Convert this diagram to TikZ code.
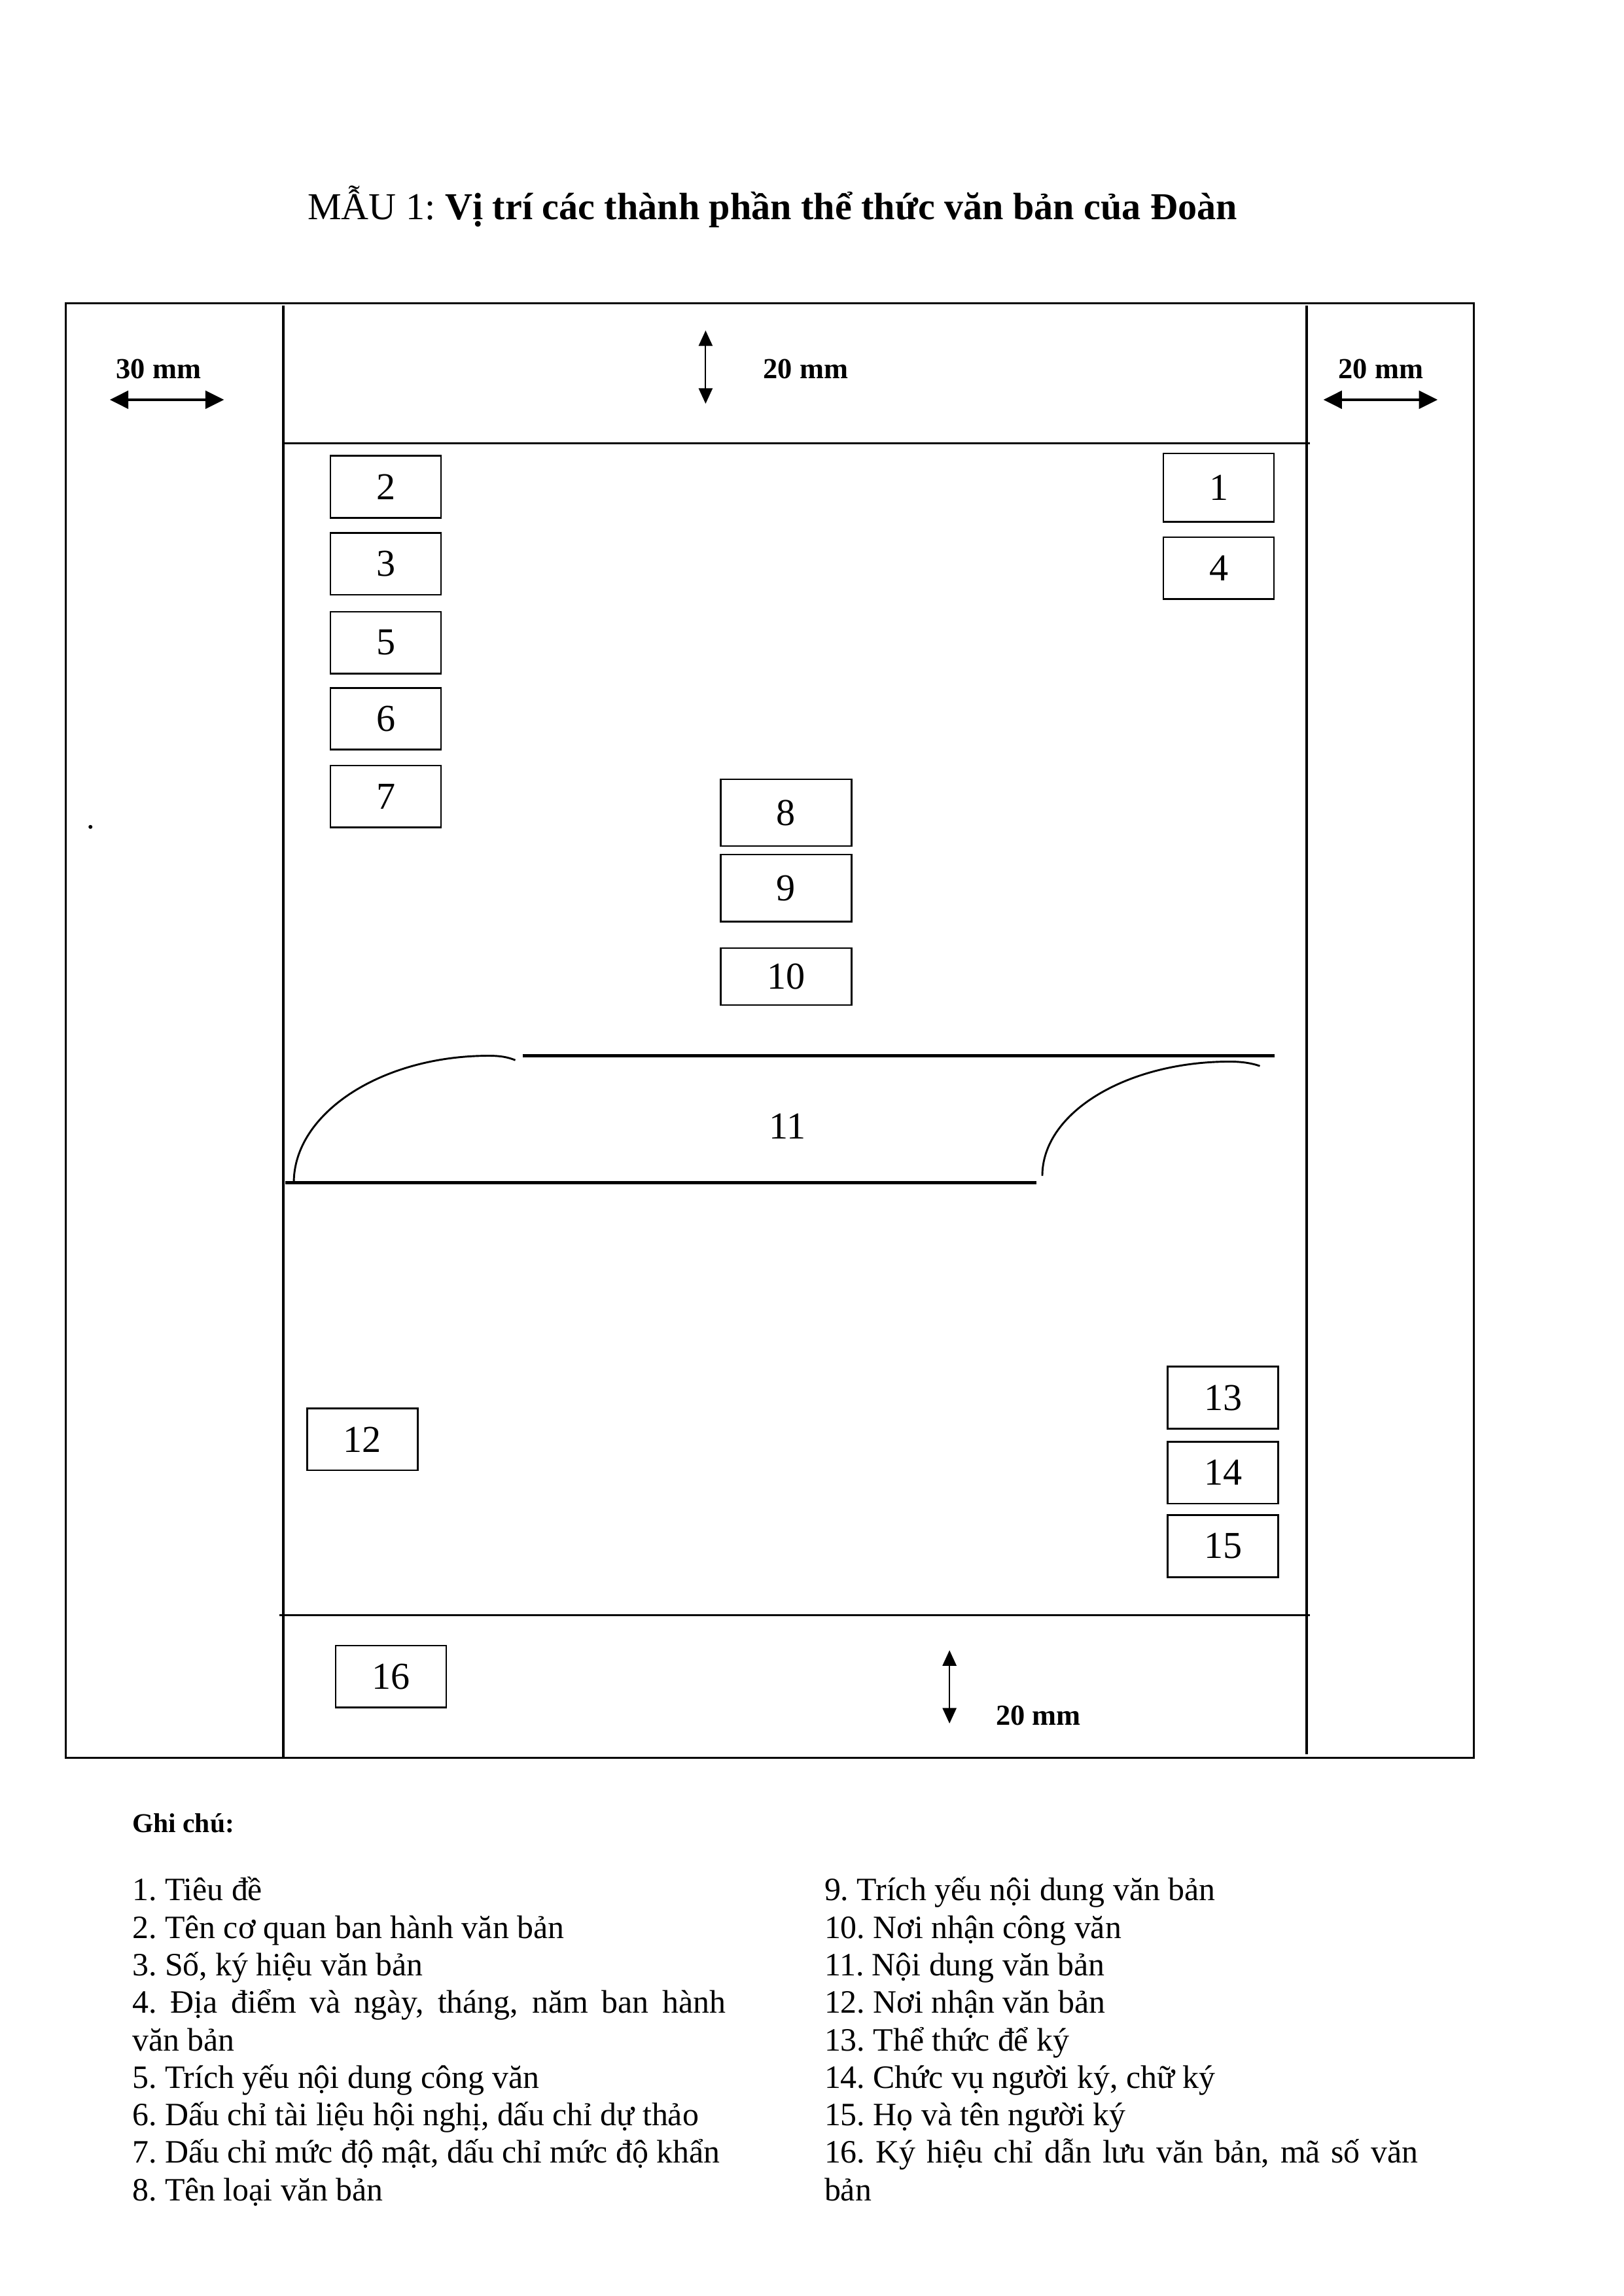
\documentclass[tikz,border=0pt]{standalone}
\usepackage{fontspec}
\setmainfont{Liberation Serif}
\usetikzlibrary{arrows.meta,positioning}
\frenchspacing
\hyphenpenalty=10000

\begin{document}
\begin{tikzpicture}[x=0.18936mm,y=-0.18941mm,
    frame/.style={line width=0.8pt},
    box/.style={draw,line width=0.65pt,minimum width=14.3mm,minimum height=8mm,
                inner sep=0pt,font=\fontsize{14}{16}\selectfont},
    widebox/.style={box,minimum width=16.9mm,minimum height=8.65mm},
    dim/.style={inner sep=0pt,anchor=base west,font=\fontsize{10.7}{12}\selectfont\bfseries},
    harrow/.style={line width=1pt,
                   {Triangle[length=2.4mm,width=2.3mm]}-{Triangle[length=2.4mm,width=2.3mm]}},
    varrow/.style={line width=0.45pt,
                   {Triangle[length=2mm,width=1.8mm]}-{Triangle[length=2mm,width=1.8mm]}},
    note/.style={text width=76.8mm,align=justify,inner sep=0pt,anchor=base west,
                 font=\fontsize{12}{13.8}\selectfont}]
  \useasboundingbox (0,0) rectangle (1109,1568);

  % title
  \node[anchor=base,inner sep=0pt,font=\fontsize{14}{16}\selectfont] (title) at (527.7,149.8)
    {MẪU 1: \textbf{Vị trí các thành phần thể thức văn bản của Đoàn}};

  % page and margins
  \draw[frame] (45,207) rectangle (1006.7,1200.5);
  \draw[frame] (193.6,208.6) -- (193.6,1200.5);
  \draw[frame] (892.6,208.6) -- (892.6,1198);
  \draw[frame] (193,302.6) -- (895,302.6);
  \draw[frame] (191,1103) -- (895,1103);

  \node[dim] (mleft) at (79,258.4) {30 mm};
  \node[dim] (mtop) at (521,258.4) {20 mm};
  \node[dim] (mright) at (914,258.4) {20 mm};
  \node[dim] (mbottom) at (680,1178) {20 mm};
  \coordinate (ml1) at (75,273);  \coordinate (ml2) at (153,273);
  \coordinate (mr1) at (904,273); \coordinate (mr2) at (982,273);
  \coordinate (mt1) at (482,225.7); \coordinate (mt2) at (482,275.7);
  \coordinate (mb1) at (648.6,1127); \coordinate (mb2) at (648.6,1177);
  \draw[harrow] (ml1) -- (ml2);
  \draw[harrow] (mr1) -- (mr2);
  \draw[varrow] (mt1) -- (mt2);
  \draw[varrow] (mb1) -- (mb2);

  \node[anchor=base,inner sep=0pt,font=\fontsize{12}{14}\selectfont] (dot) at (62,566) {.};

  % header blocks
  \node[box] (b2) at (263.5,332.5) {2};
  \node[box,below=1.72mm of b2] (b3) {3};
  \node[box,below=1.97mm of b3] (b5) {5};
  \node[box,below=1.62mm of b5] (b6) {6};
  \node[box,below=1.82mm of b6] (b7) {7};
  \node[box,minimum height=8.85mm] (b1) at (832.5,333) {1};
  \node[box,below=1.77mm of b1] (b4) {4};
  \node[widebox] (b8) at (537,555) {8};
  \node[widebox,below=0.87mm of b8] (b9) {9};
  \node[widebox,minimum height=7.35mm,below=3.22mm of b9] (b10) {10};

  % body
  \draw[line width=1pt] (357,721) -- (870.7,721);
  \draw[line width=1pt] (195,807.7) -- (708,807.7);
  \draw[line width=0.7pt] (200.7,807.7) .. controls (200.7,760.2) and (260.5,721) .. (334,721)
        .. controls (342,721) and (347,722) .. (352,724);
  \draw[line width=0.7pt] (712,803) .. controls (712,759.5) and (770,725) .. (840,725)
        .. controls (848,725) and (855,726) .. (860.6,728);
  \node[inner sep=0pt,font=\fontsize{14}{16}\selectfont] (b11) at (538,769) {11};

  % signature blocks
  \node[box] (b12) at (247.5,983) {12};
  \node[box] (b13) at (835.5,954.5) {13};
  \node[box,below=1.47mm of b13] (b14) {14};
  \node[box,below=1.27mm of b14] (b15) {15};
  \node[box] (b16) at (267,1145) {16};

  % notes
  \node[inner sep=0pt,anchor=base west,font=\fontsize{10}{12}\selectfont\bfseries] (ghichu)
    at (90,1251.6) {Ghi chú:};
  \node[note] (notesl) at (90,1298) {1. Tiêu đề\par
    2. Tên cơ quan ban hành văn bản\par
    3. Số, ký hiệu văn bản\par
    4. Địa điểm và ngày, tháng, năm ban hành\linebreak văn bản\par
    5. Trích yếu nội dung công văn\par
    6. Dấu chỉ tài liệu hội nghị, dấu chỉ dự thảo\par
    7. Dấu chỉ mức độ mật, dấu chỉ mức độ khẩn\par
    8. Tên loại văn bản};
  \node[note] (notesr) at (562.8,1298) {9. Trích yếu nội dung văn bản\par
    10. Nơi nhận công văn\par
    11. Nội dung văn bản\par
    12. Nơi nhận văn bản\par
    13. Thể thức để ký\par
    14. Chức vụ người ký, chữ ký\par
    15. Họ và tên người ký\par
    16. Ký hiệu chỉ dẫn lưu văn bản, mã số văn\linebreak bản};
\end{tikzpicture}
\end{document}
